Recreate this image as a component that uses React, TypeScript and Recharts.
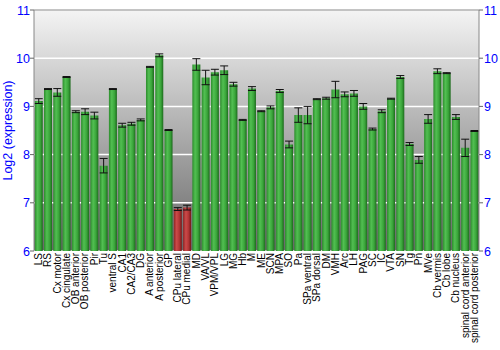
import { Bar, CartesianGrid, Cell, ComposedChart, ErrorBar, Line, ReferenceLine, XAxis, YAxis } from "recharts";

const regions = [
  "LS", "RS", "Cx motor", "Cx cingulate", "OB anterior", "OB posterior", "Pir", "Tu",
  "ventral S", "CA1", "CA2/CA3", "DG", "A anterior", "A posterior", "GP", "CPu lateral",
  "CPu medial", "MD", "VA/VL", "VPM/VPL", "LG", "MG", "Hb", "M", "ME", "SCN", "MPA", "SO",
  "Pa", "SPa ventral", "SPa dorsal", "DM", "VMH", "Arc", "LH", "PAG", "SC", "IC", "VTA",
  "SN", "Tg", "Pn", "MVe", "Cb vermis", "Cb lobe", "Cb nucleus", "spinal cord anterior",
  "spinal cord posterior",
];

const expression = [
  9.11, 9.36, 9.29, 9.61, 8.89, 8.89, 8.81, 7.77,
  9.36, 8.61, 8.64, 8.72, 9.82, 10.06, 8.51, 6.87,
  6.9, 9.87, 9.6, 9.71, 9.75, 9.46, 8.72, 9.37, 8.9, 8.98, 9.32, 8.21,
  8.82, 8.82, 9.15, 9.17, 9.35, 9.25, 9.27, 9.0, 8.53, 8.9, 9.16,
  9.61, 8.22, 7.89, 8.74, 9.73, 9.69, 8.78, 8.14,
  8.49,
];

const stdErr = [
  0.05, 0.01, 0.08, 0.01, 0.02, 0.06, 0.07, 0.15,
  0.01, 0.04, 0.03, 0.02, 0.01, 0.03, 0.01, 0.03,
  0.05, 0.12, 0.15, 0.06, 0.09, 0.04, 0.01, 0.04, 0.01, 0.03, 0.03, 0.07,
  0.15, 0.18, 0.01, 0.02, 0.17, 0.05, 0.06, 0.06, 0.02, 0.03, 0.01,
  0.03, 0.03, 0.07, 0.09, 0.05, 0.01, 0.05, 0.18,
  0.01,
];

const highlighted = ["CPu lateral", "CPu medial"];
const yTicks = [6, 7, 8, 9, 10, 11];

const data = regions.map((name, i) => ({ name, value: expression[i], err: stdErr[i] }));

const font = "Liberation Sans, Arial, sans-serif";

function RegionTick({ x, y, payload }: any) {
  const ty = y - 6;
  return (
    <text
      x={x}
      y={ty}
      transform={`rotate(-90, ${x}, ${ty})`}
      textAnchor="end"
      dy={3.5}
      fontSize={10}
      fontFamily={font}
      fill="#000"
    >
      {payload.value}
    </text>
  );
}

function LeftTick({ x, y, payload }: any) {
  return (
    <text x={x + 2} y={y} dy={4.5} textAnchor="end" fontSize={12.5} fontFamily={font} fill="#0000ff">
      {payload.value}
    </text>
  );
}

function RightTick({ x, y, payload }: any) {
  return (
    <text x={x - 1} y={y} dy={4.5} textAnchor="start" fontSize={12.5} fontFamily={font} fill="#0000ff">
      {payload.value}
    </text>
  );
}

export default function App() {
  return (
    <div style={{ position: "absolute", left: 0, top: 0, width: 500, height: 350, background: "#fff" }}>
      <ComposedChart
        width={500}
        height={350}
        data={data}
        margin={{ top: 10, right: 0, left: 0, bottom: 0 }}
        barCategoryGap="8%"
      >
        <defs>
          <linearGradient id="bg" x1="0" y1="0" x2="0" y2="1">
            <stop offset="0%" stopColor="#f4f4f4" />
            <stop offset="100%" stopColor="#686868" />
          </linearGradient>
          <linearGradient id="green" x1="0" y1="0" x2="1" y2="0">
            <stop offset="0%" stopColor="#2c8c2c" />
            <stop offset="35%" stopColor="#52bf52" />
            <stop offset="70%" stopColor="#3aa53a" />
            <stop offset="100%" stopColor="#1c6a1c" />
          </linearGradient>
          <linearGradient id="red" x1="0" y1="0" x2="1" y2="0">
            <stop offset="0%" stopColor="#8e2424" />
            <stop offset="35%" stopColor="#cc4a4a" />
            <stop offset="70%" stopColor="#b03434" />
            <stop offset="100%" stopColor="#701818" />
          </linearGradient>
        </defs>
        <CartesianGrid
          yAxisId="left"
          vertical={false}
          fill="url(#bg)"
          fillOpacity={1}
          stroke="#ffffff"
          strokeWidth={1.5}
          strokeDasharray="none"
        />
        <XAxis
          dataKey="name"
          interval={0}
          height={99}
          tick={<RegionTick />}
          tickLine={false}
          axisLine={false}
        />
        <YAxis
          yAxisId="left"
          domain={[6, 11]}
          ticks={yTicks}
          width={34}
          interval={0}
          tick={<LeftTick />}
          tickLine={{ stroke: "#666" }}
          tickSize={4}
          axisLine={{ stroke: "#888" }}
          allowDataOverflow
          label={{
            value: "Log2 (expression)",
            angle: -90,
            position: "insideLeft",
            offset: 0,
            dx: 8,
            style: { fill: "#0000ff", fontSize: 12.5, fontFamily: font, textAnchor: "middle" },
          }}
        />
        <YAxis
          yAxisId="right"
          orientation="right"
          domain={[6, 11]}
          ticks={yTicks}
          width={21}
          interval={0}
          tick={<RightTick />}
          tickLine={{ stroke: "#666" }}
          tickSize={4}
          axisLine={{ stroke: "#888" }}
          allowDataOverflow
        />
        <ReferenceLine yAxisId="left" y={11} stroke="#888" strokeWidth={1} />
        <Bar yAxisId="left" dataKey="value" isAnimationActive={false}>
          {data.map((d) => (
            <Cell key={d.name} fill={highlighted.includes(d.name) ? "url(#red)" : "url(#green)"} />
          ))}
          <ErrorBar dataKey="err" width={4} stroke="#111" strokeWidth={1} />
        </Bar>
        <Line
          yAxisId="right"
          dataKey="value"
          stroke="none"
          dot={false}
          activeDot={false}
          legendType="none"
          isAnimationActive={false}
        />
      </ComposedChart>
    </div>
  );
}
